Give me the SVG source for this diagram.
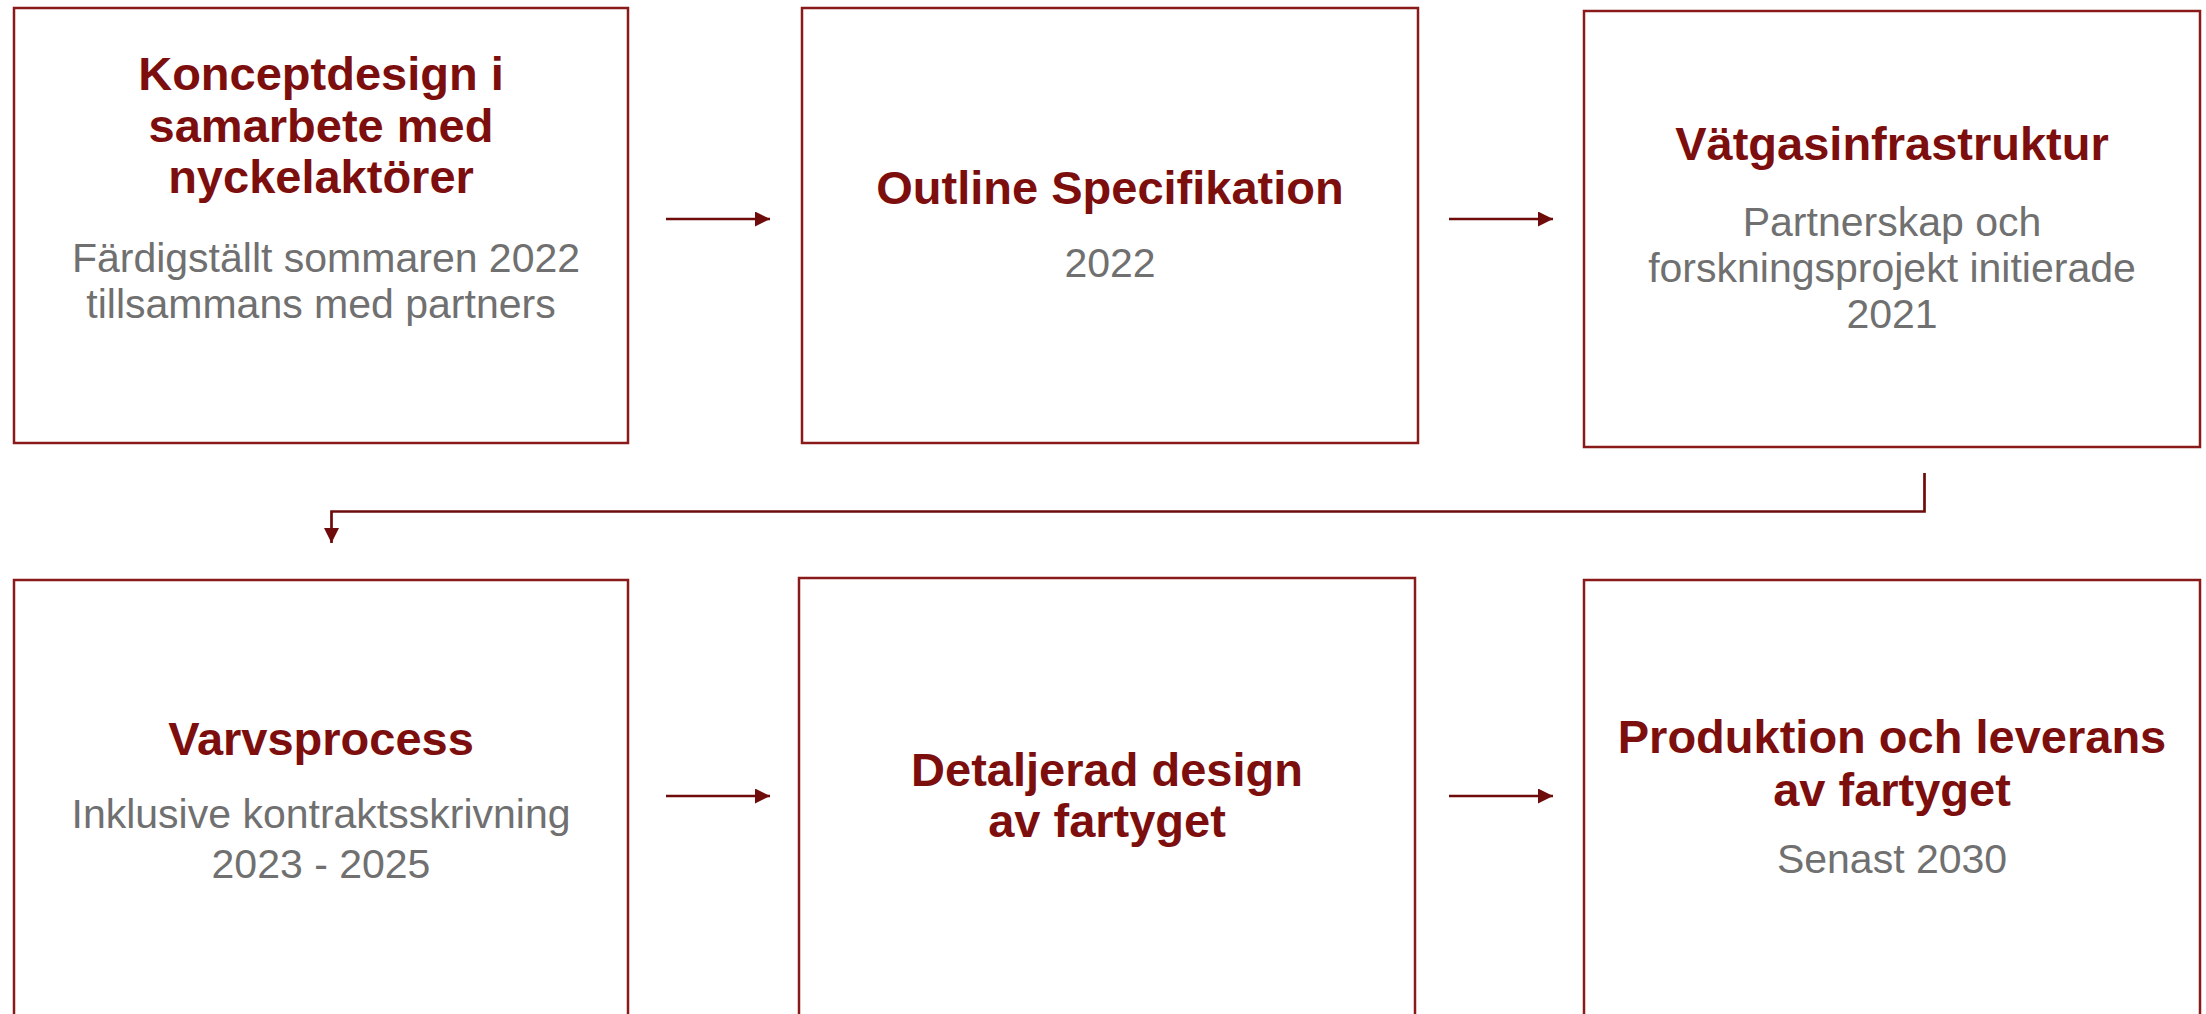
<svg xmlns="http://www.w3.org/2000/svg" width="2206" height="1014" viewBox="0 0 2206 1014">
  <defs>
    <style>
      .box { fill: #ffffff; stroke: #8a1a1a; stroke-width: 2.5; }
      .title { font-family: "Liberation Sans", Arial, sans-serif; font-weight: bold; font-size: 47px; fill: #7d0e0e; text-anchor: middle; }
      .sub { font-family: "Liberation Sans", Arial, sans-serif; font-weight: normal; font-size: 41px; fill: #707070; text-anchor: middle; }
      .conn { fill: none; stroke: #6e0b0b; stroke-width: 2.7; }
    </style>
    <marker id="arrow" viewBox="0 0 15 15" refX="15" refY="7.5" markerWidth="15" markerHeight="15" markerUnits="userSpaceOnUse" orient="auto">
      <path d="M0,0 L15,7.5 L0,15 Z" fill="#6e0b0b"/>
    </marker>
  </defs>
  <rect width="2206" height="1014" fill="#ffffff"/>

  <g id="connectors">
    <line class="conn" x1="666" y1="219" x2="770" y2="219" marker-end="url(#arrow)"/>
    <line class="conn" x1="1449" y1="219" x2="1553" y2="219" marker-end="url(#arrow)"/>
    <path class="conn" d="M1924.5,473 L1924.5,511.5 L331.5,511.5 L331.5,543" marker-end="url(#arrow)"/>
    <line class="conn" x1="666" y1="796" x2="770" y2="796" marker-end="url(#arrow)"/>
    <line class="conn" x1="1449" y1="796" x2="1553" y2="796" marker-end="url(#arrow)"/>
  </g>

  <g id="node1">
    <rect class="box" x="14" y="8" width="614" height="435"/>
    <text class="title" x="321" y="90">Konceptdesign i</text>
    <text class="title" x="321" y="142">samarbete med</text>
    <text class="title" x="321" y="193">nyckelaktörer</text>
    <text class="sub" x="326" y="272">Färdigställt sommaren 2022</text>
    <text class="sub" x="321" y="318">tillsammans med partners</text>
  </g>

  <g id="node2">
    <rect class="box" x="802" y="8" width="616" height="435"/>
    <text class="title" x="1110" y="204">Outline Specifikation</text>
    <text class="sub" x="1110" y="277">2022</text>
  </g>

  <g id="node3">
    <rect class="box" x="1584" y="11" width="616" height="436"/>
    <text class="title" x="1892" y="160">Vätgasinfrastruktur</text>
    <text class="sub" x="1892" y="236">Partnerskap och</text>
    <text class="sub" x="1892" y="282">forskningsprojekt initierade</text>
    <text class="sub" x="1892" y="328">2021</text>
  </g>

  <g id="node4">
    <rect class="box" x="14" y="580" width="614" height="440"/>
    <text class="title" x="321" y="755">Varvsprocess</text>
    <text class="sub" x="321" y="828">Inklusive kontraktsskrivning</text>
    <text class="sub" x="321" y="878">2023 - 2025</text>
  </g>

  <g id="node5">
    <rect class="box" x="799" y="578" width="616" height="440"/>
    <text class="title" x="1107" y="786">Detaljerad design</text>
    <text class="title" x="1107" y="837">av fartyget</text>
  </g>

  <g id="node6">
    <rect class="box" x="1584" y="580" width="616" height="440"/>
    <text class="title" x="1892" y="753">Produktion och leverans</text>
    <text class="title" x="1892" y="806">av fartyget</text>
    <text class="sub" x="1892" y="873">Senast 2030</text>
  </g>
</svg>
